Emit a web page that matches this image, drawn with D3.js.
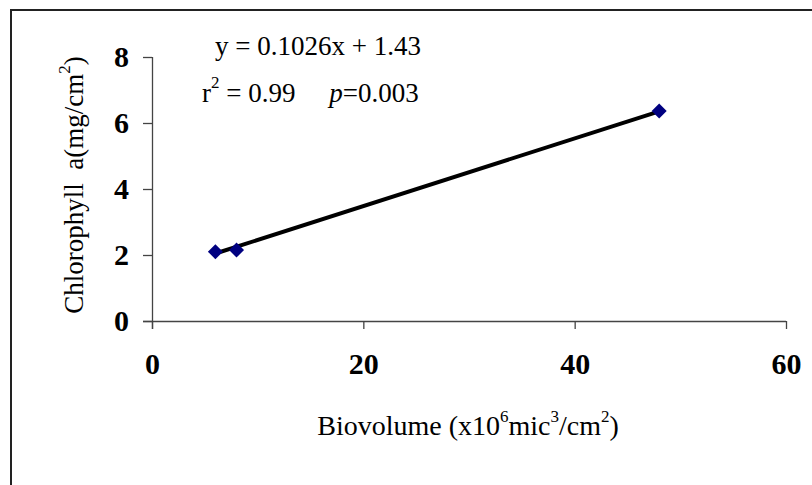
<!DOCTYPE html>
<html>
<head>
<meta charset="utf-8">
<script src="https://cdn.jsdelivr.net/npm/d3@7"></script>
<style>
  body { margin: 0; background: #fff; }
  svg { display: block; font-family: "Liberation Serif", "Times New Roman", serif; }
  text { white-space: pre; }
</style>
</head>
<body>
<div id="chart"></div>
<script>
// data
const biovolume = [6, 8, 48];
const chlorophyll = [2.1, 2.15, 6.36];
const xTicks = [0, 20, 40, 60];
const yTicks = [0, 2, 4, 6, 8];
const fitSlope = 0.1026;
const fitIntercept = 1.43;

const width = 812, height = 485;
const svg = d3.select('#chart').append('svg')
  .attr('width', width)
  .attr('height', height);

// outer frame, running off the right and bottom like the source
svg.append('rect')
  .attr('x', 11).attr('y', 10)
  .attr('width', 840).attr('height', 520)
  .attr('fill', 'none')
  .attr('stroke', '#222')
  .attr('stroke-width', 2);

const x = d3.scaleLinear().domain([0, 60]).range([152, 786]);
const y = d3.scaleLinear().domain([0, 8]).range([321, 57]);

const axisColor = '#444';

// x axis
const xAxis = svg.append('g')
  .attr('transform', `translate(0,${y(0)})`)
  .call(d3.axisBottom(x).tickValues(xTicks).tickSize(8).tickPadding(16).tickSizeOuter(0));
xAxis.select('.domain').attr('d', `M${x(0) - 9},0.5H${x(60)}`);

// y axis
const yAxis = svg.append('g')
  .attr('transform', `translate(${x(0)},0)`)
  .call(d3.axisLeft(y).tickValues(yTicks).tickSize(9).tickPadding(14).tickSizeOuter(0));
yAxis.select('.domain').attr('d', `M0.5,${y(8)}V${y(0) + 8}`);

svg.selectAll('.domain, .tick line').attr('stroke', axisColor).attr('stroke-width', 1.3);
svg.selectAll('.tick text')
  .attr('fill', '#000')
  .attr('font-family', '"Liberation Serif", serif')
  .attr('font-weight', 'bold')
  .attr('font-size', '30px');
xAxis.selectAll('.tick text').attr('dy', '0.95em');

// trend line over the data range
const [xMin, xMax] = d3.extent(biovolume);
svg.append('line')
  .attr('x1', x(xMin)).attr('y1', y(fitSlope * xMin + fitIntercept))
  .attr('x2', x(xMax)).attr('y2', y(fitSlope * xMax + fitIntercept))
  .attr('stroke', '#000')
  .attr('stroke-width', 4);

// diamond markers
svg.append('g')
  .selectAll('path')
  .data(biovolume.map((b, i) => [b, chlorophyll[i]]))
  .enter()
  .append('path')
  .attr('transform', d => `translate(${x(d[0])},${y(d[1])})`)
  .attr('d', 'M0,-7.5L7.5,0L0,7.5L-7.5,0Z')
  .attr('fill', '#000080');

// equation text
svg.append('text')
  .attr('x', 215).attr('y', 55)
  .attr('font-size', '27px')
  .text('y = 0.1026x + 1.43');

const r2 = svg.append('text')
  .attr('x', 202).attr('y', 102)
  .attr('font-size', '27px');
r2.append('tspan').text('r');
r2.append('tspan').attr('dy', -14).attr('font-size', '17px').text('2');
r2.append('tspan').attr('dy', 14).text(' = 0.99     ');
r2.append('tspan').attr('font-style', 'italic').text('p');
r2.append('tspan').text('=0.003');

// x axis title
const xt = svg.append('text')
  .attr('x', 468).attr('y', 435)
  .attr('text-anchor', 'middle')
  .attr('font-size', '28px');
xt.append('tspan').text('Biovolume (x10');
xt.append('tspan').attr('dy', -13).attr('font-size', '17px').text('6');
xt.append('tspan').attr('dy', 13).text('mic');
xt.append('tspan').attr('dy', -13).attr('font-size', '17px').text('3');
xt.append('tspan').attr('dy', 13).text('/cm');
xt.append('tspan').attr('dy', -13).attr('font-size', '17px').text('2');
xt.append('tspan').attr('dy', 13).text(')');

// y axis title
const yt = svg.append('text')
  .attr('transform', 'translate(83,185) rotate(-90)')
  .attr('text-anchor', 'middle')
  .attr('font-size', '27px');
yt.append('tspan').text('Chlorophyll  a(mg/cm');
yt.append('tspan').attr('dy', -13).attr('font-size', '17px').text('2');
yt.append('tspan').attr('dy', 13).text(')');
</script>
</body>
</html>
